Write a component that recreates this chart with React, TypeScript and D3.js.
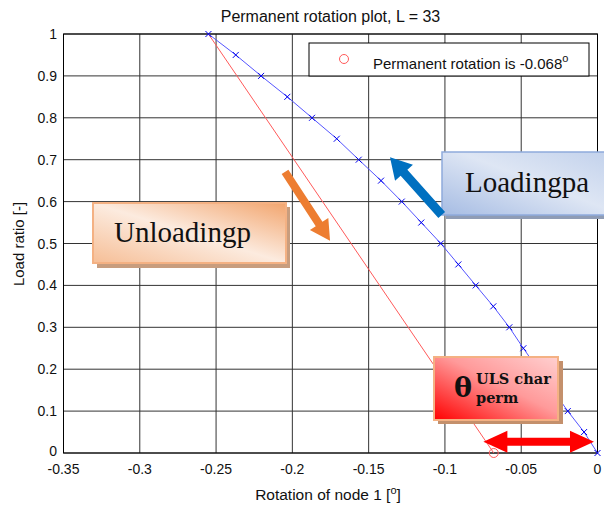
import React from "react";
import * as d3 from "d3";

const loadRatio = [1.0, 0.95, 0.9, 0.85, 0.8, 0.75, 0.7, 0.65, 0.6, 0.55, 0.5, 0.45, 0.4, 0.35, 0.3, 0.25, 0.2, 0.15, 0.1, 0.05, 0.0];
const loadRotation = [-0.255, -0.2371, -0.2205, -0.2033, -0.1871, -0.1709, -0.1565, -0.1419, -0.1283, -0.1155, -0.1027, -0.0912, -0.0798, -0.0683, -0.0578, -0.0486, -0.039, -0.0292, -0.0195, -0.0088, 0.0];
const unloadRatio = [1.0, 0.0];
const unloadRotation = [-0.255, -0.068];
const permanentRotation = -0.068;
const xTicks = [-0.35, -0.3, -0.25, -0.2, -0.15, -0.1, -0.05, 0];
const xTickLabels = ["-0.35", "-0.3", "-0.25", "-0.2", "-0.15", "-0.1", "-0.05", "0"];
const yTicks = [0, 0.1, 0.2, 0.3, 0.4, 0.5, 0.6, 0.7, 0.8, 0.9, 1];
const yTickLabels = ["0", "0.1", "0.2", "0.3", "0.4", "0.5", "0.6", "0.7", "0.8", "0.9", "1"];

const W = 604, H = 506;
const L = 63.5, R = 597.5, T = 34, B = 453;

function arrowPoly(x0: number, y0: number, x1: number, y1: number, sw: number, hw: number, hl: number, dbl = false) {
  const dx = x1 - x0, dy = y1 - y0;
  const len = Math.hypot(dx, dy);
  const ux = dx / len, uy = dy / len;
  const nx = -uy, ny = ux;
  const p = (s: number, n: number) => [x0 + ux * s + nx * n, y0 + uy * s + ny * n];
  const pts: number[][] = [];
  if (dbl) {
    pts.push(p(0, 0), p(hl, hw / 2), p(hl, sw / 2), p(len - hl, sw / 2), p(len - hl, hw / 2), p(len, 0),
      p(len - hl, -hw / 2), p(len - hl, -sw / 2), p(hl, -sw / 2), p(hl, -hw / 2));
  } else {
    pts.push(p(0, sw / 2), p(len - hl, sw / 2), p(len - hl, hw / 2), p(len, 0), p(len - hl, -hw / 2), p(len - hl, -sw / 2), p(0, -sw / 2));
  }
  return pts.map((q) => q.join(",")).join(" ");
}

export default function App() {
  const x = d3.scaleLinear().domain([-0.35, 0]).range([L, R]);
  const y = d3.scaleLinear().domain([0, 1]).range([B, T]);
  const loadPts: [number, number][] = loadRotation.map((r, i) => [r, loadRatio[i]]);
  const unloadPts: [number, number][] = unloadRotation.map((r, i) => [r, unloadRatio[i]]);
  const line = d3.line<[number, number]>().x((d) => x(d[0])).y((d) => y(d[1]));
  const font = "Liberation Sans, Arial, sans-serif";
  const serif = "Liberation Serif, Times New Roman, serif";

  return (
    <svg width={W} height={H} style={{ position: "absolute", left: 0, top: 0, background: "#fff" }}>
      <defs>
        <linearGradient id="gOr" x1="0" y1="1" x2="1" y2="0">
          <stop offset="0" stopColor="#F6BE96" />
          <stop offset="0.5" stopColor="#FCEBDF" />
          <stop offset="1" stopColor="#F2A56E" />
        </linearGradient>
        <linearGradient id="gBl" x1="0" y1="1" x2="1" y2="0">
          <stop offset="0" stopColor="#A6BCE3" />
          <stop offset="0.55" stopColor="#DEE6F4" />
          <stop offset="1" stopColor="#C3D2EC" />
        </linearGradient>
        <linearGradient id="gRd" x1="0" y1="1" x2="1" y2="0">
          <stop offset="0" stopColor="#FF0000" />
          <stop offset="0.55" stopColor="#FF9A9A" />
          <stop offset="1" stopColor="#FFD0D0" />
        </linearGradient>
      </defs>
      <rect x={0} y={0} width={W} height={H} fill="#fff" />
      {/* grid */}
      {xTicks.map((t, i) => (
        <line key={"gx" + i} x1={x(t)} x2={x(t)} y1={T} y2={B} stroke="#333" strokeWidth={1} />
      ))}
      {yTicks.map((t, i) => (
        <line key={"gy" + i} x1={L} x2={R} y1={y(t)} y2={y(t)} stroke="#333" strokeWidth={1} />
      ))}
      <rect x={L} y={T} width={R - L} height={B - T} fill="none" stroke="#000" strokeWidth={1} />
      {/* tick labels */}
      {xTicks.map((t, i) => (
        <text key={"tx" + i} x={x(t)} y={474} textAnchor="middle" fontFamily={font} fontSize={14} fill="#111">{xTickLabels[i]}</text>
      ))}
      {yTicks.map((t, i) => (
        <text key={"ty" + i} x={57} y={y(t) + (t === 0 ? 3 : 5)} textAnchor="end" fontFamily={font} fontSize={14} fill="#111">{yTickLabels[i]}</text>
      ))}
      <text x={330.5} y={22} textAnchor="middle" fontFamily={font} fontSize={16} fill="#111">Permanent rotation plot, L = 33</text>
      <text x={328} y={500} textAnchor="middle" fontFamily={font} fontSize={15.5} fill="#111">
        Rotation of node 1 [<tspan dy={-6} fontSize={11}>o</tspan><tspan dy={6}>]</tspan>
      </text>
      <text transform="translate(24,244) rotate(-90)" textAnchor="middle" fontFamily={font} fontSize={15} fill="#111">Load ratio [-]</text>
      {/* series */}
      <path d={line(unloadPts) || ""} fill="none" stroke="#FF5A5A" strokeWidth={1} />
      <path d={line(loadPts) || ""} fill="none" stroke="#5555FF" strokeWidth={1} />
      {loadPts.map((d, i) => (
        <g key={"m" + i} stroke="#0000EE" strokeWidth={1}>
          <line x1={x(d[0]) - 3} x2={x(d[0]) + 3} y1={y(d[1]) - 3} y2={y(d[1]) + 3} />
          <line x1={x(d[0]) - 3} x2={x(d[0]) + 3} y1={y(d[1]) + 3} y2={y(d[1]) - 3} />
        </g>
      ))}
      <circle cx={x(permanentRotation)} cy={y(0)} r={4.5} fill="none" stroke="#FF5A5A" strokeWidth={1} />
      {/* legend */}
      <rect x={309} y={43} width={280} height={33} fill="#fff" stroke="#000" strokeWidth={1} />
      <circle cx={344} cy={59} r={4.5} fill="none" stroke="#FF5A5A" strokeWidth={1} />
      <text x={373} y={69} fontFamily={font} fontSize={15} fill="#111">
        Permanent rotation is -0.068<tspan dy={-7} fontSize={11}>o</tspan>
      </text>
      {/* Unloading box */}
      <rect x={97} y={207} width={193} height={61} fill="#C89D7E" />
      <rect x={93} y={203} width={193} height={60} fill="url(#gOr)" stroke="#F4B183" strokeWidth={2} />
      <text x={114} y={242} fontFamily={serif} fontSize={29} fill="#111">Unloadingp</text>
      <polygon points={arrowPoly(x(-0.2048), y(0.671), x(-0.1753), y(0.5067), 8, 22, 20)} fill="#ED7D31" />
      {/* Loading box */}
      <rect x={446} y={156} width={160} height={63} fill="#8F9CB5" />
      <rect x={442} y={152} width={164} height={63} fill="url(#gBl)" stroke="#8FAADC" strokeWidth={1.5} />
      <text x={465} y={192} fontFamily={serif} fontSize={29} fill="#111">Loadingpa</text>
      <polygon points={arrowPoly(x(-0.1021), y(0.568), x(-0.136), y(0.706), 9, 24, 21)} fill="#0070C0" />
      {/* theta box */}
      <rect x={438} y={361} width={125} height={63} fill="#C4906C" />
      <rect x={434} y={357} width={124} height={63} fill="url(#gRd)" stroke="#F4B183" strokeWidth={2} />
      <text x={454} y={397} fontFamily="DejaVu Serif, serif" fontWeight="bold" fontSize={27} fill="#111">θ</text>
      <text x={476} y={384} fontFamily="DejaVu Serif, serif" fontWeight="bold" fontSize={14.5} fill="#111">ULS char</text>
      <text x={476} y={403} fontFamily="DejaVu Serif, serif" fontWeight="bold" fontSize={14.5} fill="#111">perm</text>
      <polygon points={arrowPoly(x(-0.0748), y(0.027), x(-0.0023), y(0.027), 8, 22, 24, true)} fill="#FF0000" />
    </svg>
  );
}
